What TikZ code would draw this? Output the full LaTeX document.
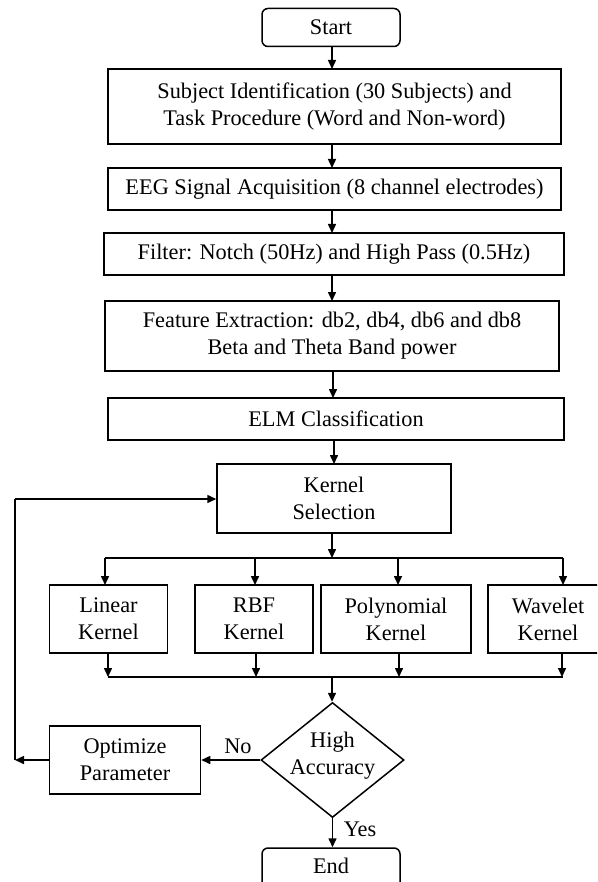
\documentclass[tikz,border=0pt]{standalone}
\usepackage{fontspec}
\setmainfont{Liberation Serif}
\usetikzlibrary{arrows.meta,shapes.geometric}
\begin{document}
\begin{tikzpicture}[x=1pt,y=-1pt,
  box/.style={draw, line width=1.5pt, inner sep=0pt, align=center, font=\fontsize{22.3}{27}\selectfont},
  rbox/.style={box, rounded corners=6pt},
  lbl/.style={inner sep=0pt, align=center, font=\fontsize{22.3}{27}\selectfont},
  arr/.style={-{Triangle[length=9pt,width=8pt]}, line width=1.5pt},
  ln/.style={line width=1.5pt}]
\path[use as bounding box, clip] (0,0) rectangle (597,882);
\fill[white] (0,0) rectangle (597,882);

\node[rbox, minimum width=138pt, minimum height=38pt] (start) at (331,27.5) {Start};
\node[box, minimum width=453pt, minimum height=75pt] (subj) at (334.5,106.5) {Subject Identification (30 Subjects) and\\Task Procedure (Word and Non-word)};
\node[box, minimum width=453pt, minimum height=42pt] (eeg) at (334.5,189) {EEG Signal Acquisition (8 channel electrodes)};
\node[box, minimum width=460pt, minimum height=42pt] (filt) at (334,254) {Filter: Notch (50Hz) and High Pass (0.5Hz)};
\node[box, minimum width=454pt, minimum height=70pt] (feat) at (332,336) {Feature Extraction: db2, db4, db6 and db8\\Beta and Theta Band power};
\node[box, minimum width=456pt, minimum height=42pt] (elm) at (336,419) {ELM Classification};
\node[box, minimum width=234pt, minimum height=69pt] (ksel) at (334,498.5) {Kernel\\Selection};

\node[box, minimum width=118pt, minimum height=68pt] (lin) at (108.5,619) {Linear\\Kernel};
\node[box, minimum width=118pt, minimum height=68pt] (rbf) at (254,619) {RBF\\Kernel};
\node[box, minimum width=150pt, minimum height=68pt] (poly) at (396,619) {Polynomial\\Kernel};
\node[box, minimum width=120pt, minimum height=68pt] (wav) at (548,619) {Wavelet\\Kernel};

\node[draw, diamond, line width=1.5pt, minimum width=143pt, minimum height=115pt, inner sep=0pt] (dec) at (332.5,760) {};
\node[lbl] (dectext) at (332.5,756) {High\\Accuracy};
\node[box, minimum width=151pt, minimum height=68pt] (opt) at (125,760) {Optimize\\Parameter};
\node[rbox, minimum width=138pt, minimum height=40pt] (end) at (331,868) {};
\node[lbl] (endtext) at (331,866) {End};

\node[lbl] (no) at (238,746) {No};
\node[lbl] (yes) at (360,829) {Yes};

% main chain
\draw[arr] (332,46.5) -- (332,69);
\draw[arr] (332,144) -- (332,168);
\draw[arr] (332,210) -- (332,233);
\draw[arr] (332,275) -- (332,301);
\draw[arr] (333,371) -- (333,398);
\draw[arr] (334,440) -- (334,464);

% split bus
\coordinate (b1) at (332,558);
\coordinate (b1l) at (105,558);
\coordinate (b1r) at (563,558);
\draw[arr] (b1 |- ksel.south) -- (b1);
\draw[ln] (b1l) -- (b1r);
\draw[arr] (b1l) -- (105,585);
\draw[arr] (255,558) -- (255,585);
\draw[arr] (398,558) -- (398,585);
\draw[arr] (b1r) -- (563,585);

% merge bus
\coordinate (b2) at (332,677);
\coordinate (b2l) at (108,677);
\coordinate (b2r) at (563,677);
\draw[arr] (108,653) -- (b2l);
\draw[arr] (256,653) -- (256,677);
\draw[arr] (399,653) -- (399,677);
\draw[arr] (562,653) -- (562,677);
\draw[ln] (b2l) -- (b2r);
\draw[arr] (b2) -- (b2 |- dec.north);

% decision
\draw[arr] (dec.west) -- (opt.east);
\draw[arr] (dec.south) -- (dec.south |- end.north);

% feedback
\coordinate (fb1) at (15,760);
\coordinate (fb2) at (15,499);
\draw[arr] (opt.west) -- (fb1);
\draw[ln] (fb1) -- (fb2);
\draw[arr] (fb2) -- (ksel.west |- fb2);
\end{tikzpicture}
\end{document}
